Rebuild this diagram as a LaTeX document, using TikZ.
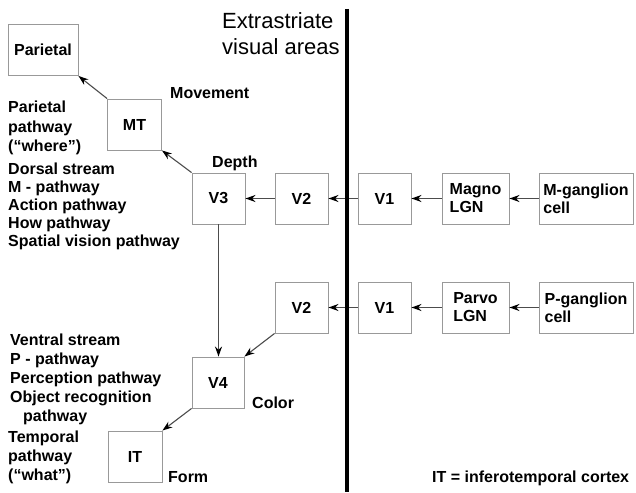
\documentclass[tikz,border=0pt]{standalone}
\usepackage{fontspec}
\setmainfont{Liberation Sans}
\usetikzlibrary{arrows.meta}

\definecolor{boxgray}{gray}{0.6}
\definecolor{linegray}{gray}{0.3}
\newcommand\lblfont{\fontsize{16}{18}\selectfont\bfseries}

\tikzset{
  area/.style={draw=boxgray, line width=0.9pt, minimum width=53pt, minimum height=51pt,
               inner sep=0pt, font=\lblfont, align=left},
  lbl/.style={anchor=base west, inner sep=0pt, font=\lblfont},
  title/.style={anchor=base west, inner sep=0pt, font=\fontsize{22}{26}\selectfont},
  link/.style={draw=linegray, line width=1.1pt, -{Stealth[length=10pt,width=7pt,color=black]}},
}

\begin{document}
\begin{tikzpicture}[x=1pt,y=-1pt]
\useasboundingbox (0,0) rectangle (636,492);
\fill[white] (0,0) rectangle (636,492);

% dorsal chain
\node[area, minimum width=70pt] (par) at (43,50) {Parietal};
\node[area, minimum width=54pt] (mt) at (134.5,124.5) {MT};
\node[area] (v3) at (218.5,198.5) {V3};
\node[area] (v2a) at (301.5,198.5) {V2};
\node[area] (v1a) at (384.5,198.5) {V1};
\node[area, minimum width=67pt] (magno) at (475.5,198.5) {Magno\\LGN};
\node[area, minimum width=94pt] (mg) at (586,198.5) {M-ganglion\\cell};

% ventral chain
\node[area] (v2b) at (301.5,307.5) {V2};
\node[area] (v1b) at (384.5,307.5) {V1};
\node[area, minimum width=67pt] (parvo) at (475.5,307.5) {Parvo\\LGN};
\node[area, minimum width=94pt] (pg) at (586,307.5) {P-ganglion\\cell};
\node[area, minimum width=52pt] (v4) at (218,382.5) {V4};
\node[area, minimum width=54pt] (it) at (135,456.5) {IT};

% connections
\draw[link] (mg) -- (magno);
\draw[link] (magno) -- (v1a);
\draw[link] (v1a) -- (v2a);
\draw[link] (v2a) -- (v3);
\draw[link] (v3.north west) -- (mt.south east);
\draw[link] (mt.north west) -- (par.south east);
\draw[link] (v3.south) -- (v3.south |- v4.north);
\draw[link] (pg) -- (parvo);
\draw[link] (parvo) -- (v1b);
\draw[link] (v1b) -- (v2b);
\draw[link] (v2b.south west) -- (v4.north east);
\draw[link] (v4.south west) -- (it.north east);

% boundary of the extrastriate areas
\coordinate (bt) at (347,9);
\coordinate (bb) at (347,492);
\draw[line width=4pt] (bt) -- (bb);
\node[title] (ex1) at (222,29) {Extrastriate};
\node[title] (ex2) at (222,55) {visual areas};

% attribute labels
\node[lbl] (mov) at (170,99) {Movement};
\node[lbl] (dep) at (212,167) {Depth};
\node[lbl] (col) at (252,408) {Color};
\node[lbl] (frm) at (168,482) {Form};

% dorsal pathway names
\node[lbl] (d1) at (8,113) {Parietal};
\node[lbl] (d2) at (8,132) {pathway};
\node[lbl] (d3) at (8,151) {(“where”)};
\node[lbl] (d4) at (8,174) {Dorsal stream};
\node[lbl] (d5) at (8,192) {M - pathway};
\node[lbl] (d6) at (8,210) {Action pathway};
\node[lbl] (d7) at (8,228) {How pathway};
\node[lbl] (d8) at (8,246) {Spatial vision pathway};

% ventral pathway names
\node[lbl] (w1) at (10,345) {Ventral stream};
\node[lbl] (w2) at (10,364) {P - pathway};
\node[lbl] (w3) at (10,383) {Perception pathway};
\node[lbl] (w4) at (10,402) {Object recognition};
\node[lbl] (w5) at (23,421) {pathway};
\node[lbl] (w6) at (8,442) {Temporal};
\node[lbl] (w7) at (8,461) {pathway};
\node[lbl] (w8) at (8,480) {(“what”)};

\node[lbl] (note) at (432,482) {IT = inferotemporal cortex};
\end{tikzpicture}
\end{document}
